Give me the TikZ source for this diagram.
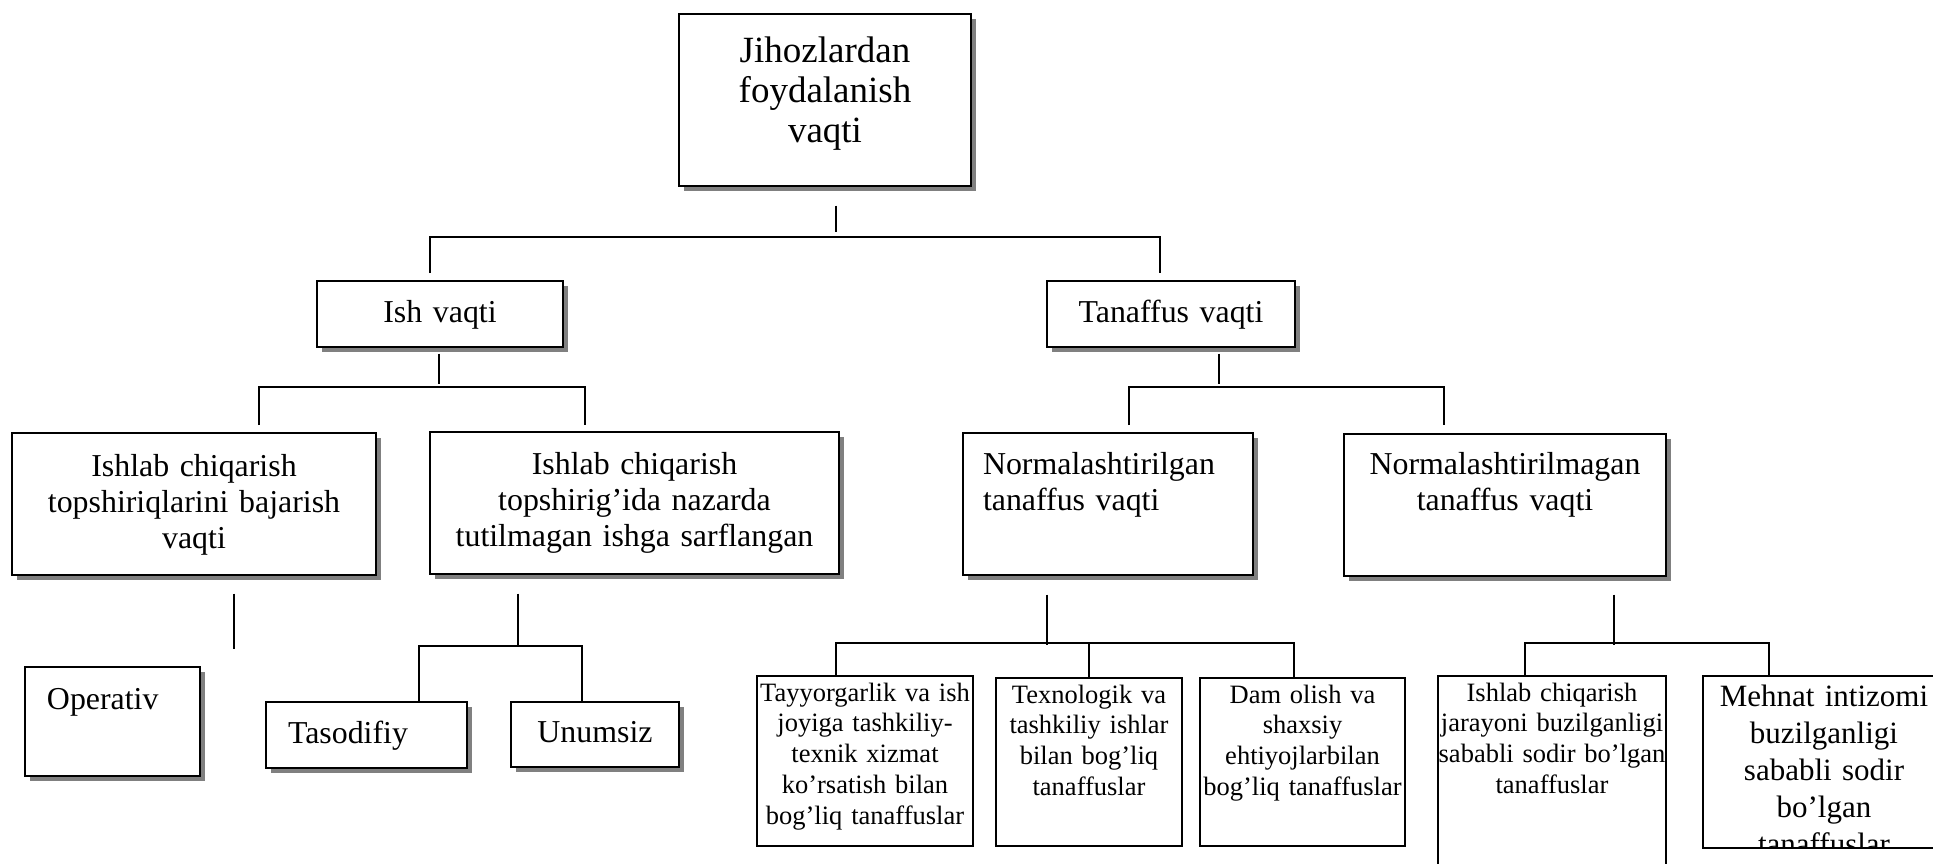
\documentclass[tikz,border=0pt]{standalone}
\usepackage{fontspec}
\setmainfont{Liberation Serif}
\usepackage{xcolor}
\usetikzlibrary{calc,shadows}
\definecolor{shadowgray}{HTML}{808080}

\begin{document}
\begin{tikzpicture}[x=0.4pt,y=-0.4pt,
  shadowbox/.style={draw, fill=white, line width=0.6pt, inner sep=0pt, anchor=north,
    font=\fontsize{12.75}{14.4}\selectfont,
    drop shadow={shadow xshift=2pt, shadow yshift=-2pt, fill=shadowgray, opacity=1}},
  leafbox/.style={draw, fill=white, line width=0.9pt, inner sep=0pt, anchor=north,
    align=center, font=\fontsize{10.6}{12.3}\selectfont},
  link/.style={line width=0.55pt}]
  \useasboundingbox (0,0) rectangle (1933,863);
  \clip (0,0) rectangle (1933,863);

  \node[shadowbox, align=center, font=\fontsize{14.8}{16}\selectfont,
    text width=116.8pt, text height=19.6pt, text depth=49.2pt] (jihoz) at (825,13)
    {Jihozlardan\\foydalanish\\vaqti};

  \node[shadowbox, align=center, text width=98.4pt, text height=16.8pt, text depth=9.6pt]
    (ish) at (440,280) {Ish vaqti};
  \node[shadowbox, align=center, text width=99.2pt, text height=16.8pt, text depth=9.6pt]
    (tanaffus) at (1171,280) {Tanaffus vaqti};

  \node[shadowbox, align=center, text width=145.6pt, text height=17.6pt, text depth=39.2pt]
    (topsh) at (194,432) {Ishlab chiqarish\\topshiriqlarini bajarish\\vaqti};
  \node[shadowbox, align=center, text width=163.6pt, text height=17.2pt, text depth=39.6pt]
    (nazarda) at (634.5,431) {Ishlab chiqarish\\topshirig’ida nazarda\\tutilmagan ishga sarflangan};
  \node[shadowbox, align=left, inner xsep=8pt, text width=100pt, text height=16.8pt, text depth=40pt]
    (normal) at (1108,432) {Normalashtirilgan\\tanaffus vaqti};
  \node[shadowbox, align=center, text width=128.8pt, text height=16.4pt, text depth=40.4pt]
    (nonormal) at (1505,433) {Normalashtirilmagan\\tanaffus vaqti};

  \node[shadowbox, align=left, inner xsep=8.8pt, text width=52.4pt, text height=17.2pt, text depth=26.4pt]
    (operativ) at (112.5,666) {Operativ};
  \node[shadowbox, align=left, inner xsep=8.8pt, text width=62.8pt, text height=16.8pt, text depth=9.6pt]
    (tasodif) at (366.5,701) {Tasodifiy};
  \node[shadowbox, align=center, text width=67.2pt, text height=16.4pt, text depth=9.6pt]
    (unumsiz) at (595,701) {Unumsiz};

  \node[leafbox, text width=86.4pt, text height=10pt, text depth=58pt] (tayyor) at (865,675)
    {Tayyorgarlik va ish\\joyiga tashkiliy-\\texnik xizmat\\ko’rsatish bilan\\bog’liq tanaffuslar};
  \node[leafbox, text width=74.4pt, text height=10pt, text depth=57.2pt] (texno) at (1089,677)
    {Texnologik va\\tashkiliy ishlar\\bilan bog’liq\\tanaffuslar};
  \node[leafbox, text width=82pt, text height=10pt, text depth=57.2pt] (dam) at (1302.5,677)
    {Dam olish va\\shaxsiy\\ehtiyojlarbilan\\bog’liq tanaffuslar};
  \node[leafbox, text width=91.2pt, text height=10pt, text depth=86pt] (jarayon) at (1552,675)
    {Ishlab chiqarish\\jarayoni buzilganligi\\sababli sodir bo’lgan\\tanaffuslar};
  \begin{scope}
    \clip (1690,660) rectangle (1940,848.2);
    \node[leafbox, font=\fontsize{12.4}{14.8}\selectfont, text width=96.8pt,
      text height=12pt, text depth=56.8pt] (mehnat) at (1824,675)
      {Mehnat intizomi\\buzilganligi\\sababli sodir\\bo’lgan\\tanaffuslar};
  \end{scope}

  \draw[link] ($(jihoz.south)+(11,19)$) -- ++(0,26);
  \draw[link] ($(ish.north)+(-10,-7)$) -- ++(0,-36) -| ($(tanaffus.north)+(-11,-7)$);

  \draw[link] ($(ish.south)+(-1,6)$) -- ++(0,30);
  \draw[link] ($(topsh.north)+(65,-7)$) -- ++(0,-38) -| ($(nazarda.north)+(-49.5,-6)$);
  \draw[link] ($(tanaffus.south)+(48,6)$) -- ++(0,30);
  \draw[link] ($(normal.north)+(21,-7)$) -- ++(0,-38) -| ($(nonormal.north)+(-61,-8)$);

  \draw[link] ($(topsh.south)+(40,18)$) -- ++(0,55);
  \draw[link] ($(nazarda.south)+(-116.5,19)$) -- ++(0,53);
  \draw[link] ($(tasodif.north)+(52.5,0)$) -- ++(0,-55) -| ($(unumsiz.north)+(-13,0)$);

  \draw[link] ($(normal.south)+(-61,19)$) -- ++(0,50);
  \draw[link] ($(tayyor.north)+(-29,0)$) -- ++(0,-32) -| ($(dam.north)+(-8.5,0)$);
  \draw[link] (texno.north) -- ++(0,-34);
  \draw[link] ($(nonormal.south)+(109,18)$) -- ++(0,50);
  \draw[link] ($(jarayon.north)+(-27,0)$) -- ++(0,-32) -| ($(mehnat.north)+(-55,0)$);
\end{tikzpicture}
\end{document}
